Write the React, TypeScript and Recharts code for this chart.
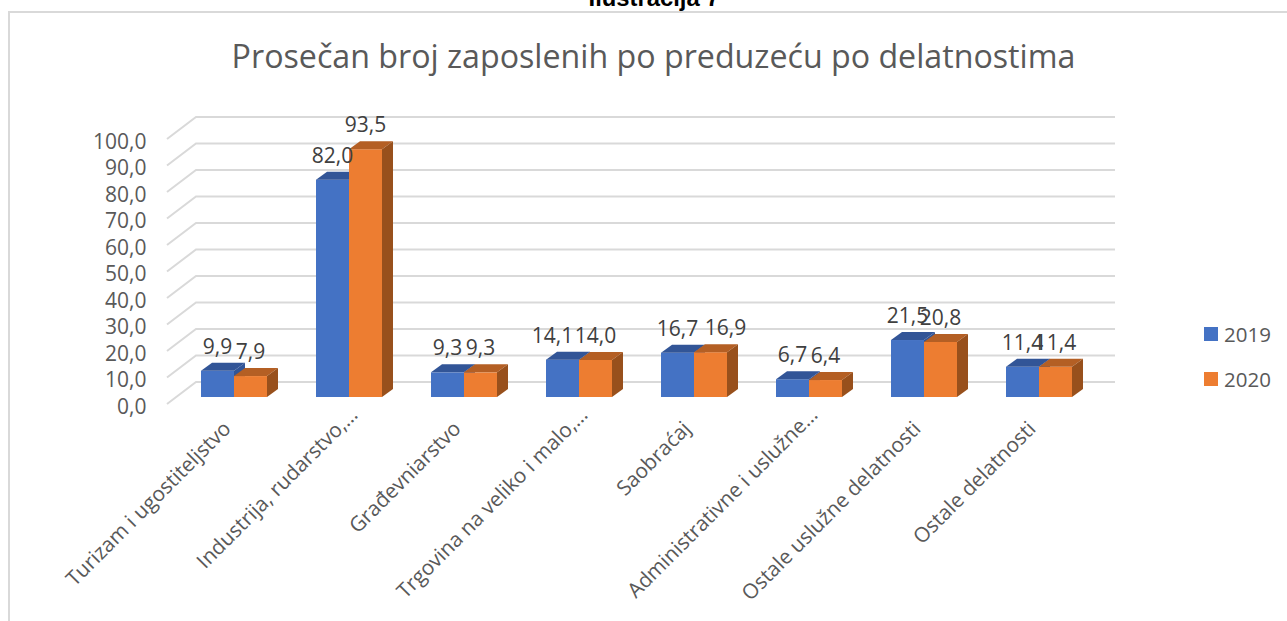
import React from "react";
import { BarChart, Bar, XAxis, YAxis, CartesianGrid, Legend, LabelList } from "recharts";

const categories = [
  "Turizam i ugostiteljstvo",
  "Industrija, rudarstvo,…",
  "Građevniarstvo",
  "Trgovina na veliko i malo,…",
  "Saobraćaj",
  "Administrativne i uslužne…",
  "Ostale uslužne delatnosti",
  "Ostale delatnosti",
];
const values2019 = [9.9, 82.0, 9.3, 14.1, 16.7, 6.7, 21.5, 11.4];
const values2020 = [7.9, 93.5, 9.3, 14.0, 16.9, 6.4, 20.8, 11.4];
const yTicks = [0, 10, 20, 30, 40, 50, 60, 70, 80, 90, 100];

const data = categories.map((name, i) => ({ name, y2019: values2019[i], y2020: values2020[i] }));

const FONT = "'Open Sans', sans-serif";
const DX = 11;
const DY = 8;
const LABEL_NUDGE: Record<string, number> = { "14,1": -10, "16,9": 15 };
const fmt = (v: number) => v.toFixed(1).replace(".", ",");

function Bar3D(props: any) {
  const { x, y, width, height, fill, topFill, sideFill } = props;
  return (
    <g>
      <rect x={x} y={y} width={width} height={height} fill={fill} />
      <polygon
        points={`${x},${y} ${x + DX},${y - DY} ${x + width + DX},${y - DY} ${x + width},${y}`}
        fill={topFill}
      />
      <polygon
        points={`${x + width},${y} ${x + width + DX},${y - DY} ${x + width + DX},${y + height - DY} ${x + width},${y + height}`}
        fill={sideFill}
      />
    </g>
  );
}

function GridLine3D(props: any) {
  const { x1, x2, y1 } = props;
  return (
    <polyline
      points={`${x1 - 9.5},${y1 + 7} ${x1 + 19.5},${y1 - 15} ${x2 + 18.5},${y1 - 15}`}
      fill="none"
      stroke="#D9D9D9"
      strokeWidth={2}
    />
  );
}

function YTick(props: any) {
  const { x, y, payload } = props;
  return (
    <text x={x - 30} y={y + 8.5} textAnchor="end" dominantBaseline="central" fontSize={21} fontFamily={FONT} fill="#595959">
      {fmt(payload.value)}
    </text>
  );
}

function XTick(props: any) {
  const { x, y, payload } = props;
  const cut = String(payload.value).endsWith("…");
  const tx = x - 2 + (cut ? 12 : 0);
  const ty = y + 25 - (cut ? 14 : 0);
  return (
    <text x={tx} y={ty} textAnchor="end" fontSize={20.7} fontFamily={FONT} fill="#595959" transform={`rotate(-45 ${tx} ${ty})`}>
      {payload.value}
    </text>
  );
}

function DataLabel(props: any) {
  const { x, y, width, value } = props;
  const text = fmt(value);
  return (
    <text
      x={x + width / 2 + (LABEL_NUDGE[text] || 0)}
      y={y - 25}
      textAnchor="middle"
      dominantBaseline="central"
      fontSize={21}
      fontFamily={FONT}
      fill="#404040"
    >
      {text}
    </text>
  );
}

function LegendBox(props: any) {
  return (
    <div style={{ fontFamily: FONT, fontSize: 20.5, color: "#595959" }}>
      {props.payload.map((e: any) => (
        <div key={e.value} style={{ display: "flex", alignItems: "center", height: 45 }}>
          <span style={{ width: 14, height: 14, background: e.color, marginRight: 6, display: "inline-block" }} />
          {e.value}
        </div>
      ))}
    </div>
  );
}

export default function App() {
  return (
    <div style={{ position: "absolute", left: 0, top: 0, width: 1287, height: 621, overflow: "hidden", background: "#fff" }}>
      <div style={{ position: "absolute", left: 8, top: 11, width: 1300, height: 640, border: "2px solid #D9D9D9", boxSizing: "border-box" }} />
      <div
        style={{
          position: "absolute",
          left: 0,
          width: 1308,
          top: -14,
          lineHeight: "24px",
          textAlign: "center",
          fontFamily: "'Liberation Sans', Arial, sans-serif",
          fontWeight: "bold",
          fontSize: 23.8,
          color: "#000",
        }}
      >
        Ilustracija 7
      </div>
      <div
        style={{
          position: "absolute",
          left: 0,
          width: 1307,
          top: 34,
          textAlign: "center",
          fontFamily: FONT,
          fontSize: 32.2,
          color: "#595959",
          whiteSpace: "nowrap",
        }}
      >
        Prosečan broj zaposlenih po preduzeću po delatnostima
      </div>
      <BarChart
        width={1287}
        height={621}
        data={data}
        margin={{ top: 132, right: 110.5, bottom: 0, left: 0 }}
        barCategoryGap={24.5}
        barGap={0}
        style={{ position: "absolute", left: 0, top: 0 }}
      >
        <CartesianGrid vertical={false} horizontal={(p: any) => <GridLine3D key={p.key} {...p} />} />
        <XAxis dataKey="name" height={224} interval={0} axisLine={false} tickLine={false} tick={<XTick />} />
        <YAxis width={176.5} domain={[0, 100]} ticks={yTicks} interval={0} axisLine={false} tickLine={false} tickSize={0} tickMargin={0} tick={<YTick />} />
        <Legend
          layout="vertical"
          verticalAlign="top"
          align="right"
          wrapperStyle={{ position: "absolute", left: 1204, top: 311, width: 80 }}
          content={<LegendBox />}
        />
        <Bar
          dataKey="y2019"
          name="2019"
          fill="#4472C4"
          isAnimationActive={false}
          shape={(p: any) => <Bar3D {...p} topFill="#325597" sideFill="#325597" />}
        >
          <LabelList dataKey="y2019" content={<DataLabel />} />
        </Bar>
        <Bar
          dataKey="y2020"
          name="2020"
          fill="#ED7D31"
          isAnimationActive={false}
          shape={(p: any) => <Bar3D {...p} topFill="#B45F24" sideFill="#98501C" />}
        >
          <LabelList dataKey="y2020" content={<DataLabel />} />
        </Bar>
      </BarChart>
    </div>
  );
}
